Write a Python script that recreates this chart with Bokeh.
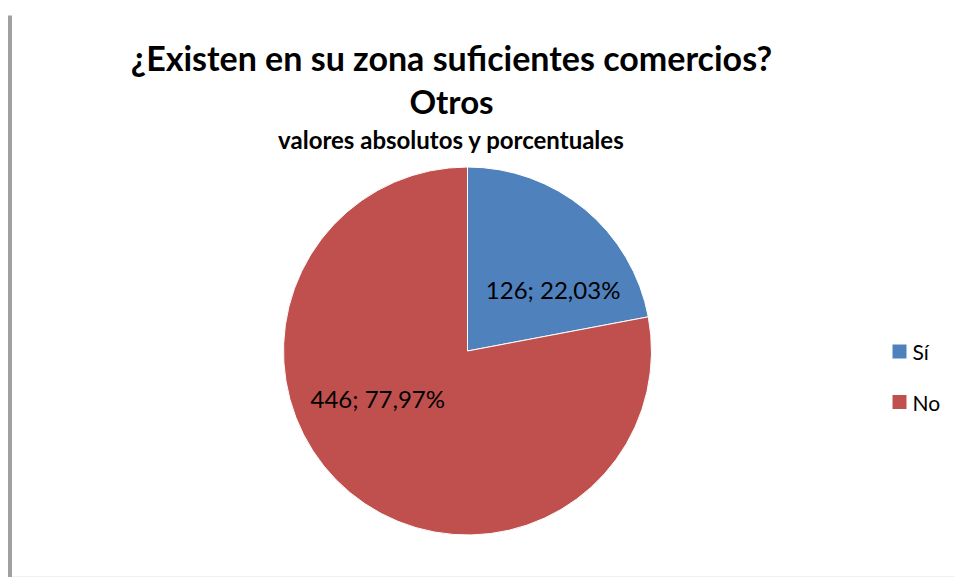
import math
from bokeh.plotting import figure
from bokeh.models import Label, ColumnDataSource
from bokeh.core.properties import value
from bokeh.embed import file_html
from bokeh.resources import INLINE

# ---- data ----
categories = ["Sí", "No"]
counts = [126, 446]
percent_labels = ["22,03%", "77,97%"]
colors = ["#4F81BD", "#C0504D"]

title_line1 = "¿Existen en su zona suficientes comercios?"
title_line2 = "Otros"
subtitle = "valores absolutos y porcentuales"

W, H = 955, 577
FONT = "Lato"

def Y(sy):
    # screen row -> data y (page has no margin with Bokeh's template)
    return H - sy

p = figure(width=W, height=H, x_range=(0, W), y_range=(0, H),
           output_backend="svg", toolbar_location=None, min_border=0,
           outline_line_color=None, background_fill_color="white",
           border_fill_color="white")
p.axis.visible = False
p.grid.visible = False

# pie geometry (layout)
cx, cy, R = 467, Y(350.5), 184
total = sum(counts)
starts, ends = [], []
a = math.pi / 2
for c in counts:
    sweep = 2 * math.pi * c / total
    starts.append(a - sweep)
    ends.append(a)
    a -= sweep

src = ColumnDataSource(dict(x=[cx] * len(counts), y=[cy] * len(counts),
                            start=starts, end=ends, color=colors))
p.wedge(x="x", y="y", radius=R, start_angle="start", end_angle="end",
        fill_color="color", line_color="white", line_width=1, source=src)

# data labels (placement style: angle in degrees, fraction of radius)
label_pos = [(35.3, 0.57), (208.5, 0.555)]
lx, ly, lt = [], [], []
for (ang, frac), c, pct in zip(label_pos, counts, percent_labels):
    lx.append(cx + R * frac * math.cos(math.radians(ang)))
    ly.append(cy + R * frac * math.sin(math.radians(ang)) + 1)
    lt.append(f"{c}; {pct}")
p.text(x=lx, y=ly, text=lt, text_align="center", text_baseline="middle",
       text_font=value(FONT), text_font_size="24px", text_color="black")

# titles
for txt, sy, size in [(title_line1, 57, "34px"), (title_line2, 100, "33px"),
                      (subtitle, 139, "24px")]:
    p.add_layout(Label(x=451, y=Y(sy), text=txt, text_align="center",
                       text_baseline="alphabetic", text_font=FONT,
                       text_font_size=size, text_font_style="bold",
                       text_color="black"))

# frame lines
p.segment(x0=[9.5], y0=[0], x1=[9.5], y1=[Y(15)], line_color="#a0a0a0", line_width=4)
p.segment(x0=[12], y0=[0.5], x1=[W], y1=[0.5], line_color="#e4e4e4", line_width=1)

# legend (manual)
leg_x, leg_y0, leg_step = 899, Y(351), 50.5
leg_ys = [leg_y0 - i * leg_step for i in range(len(categories))]
p.rect(x=[leg_x] * len(categories), y=leg_ys, width=14, height=14,
       fill_color=colors, line_color=None)
p.text(x=[leg_x + 13] * len(categories), y=leg_ys, text=categories,
       text_align="left", text_baseline="middle", text_font=value(FONT),
       text_font_size="21px", text_color="black")

open("out.html", "w").write(file_html(p, INLINE))
